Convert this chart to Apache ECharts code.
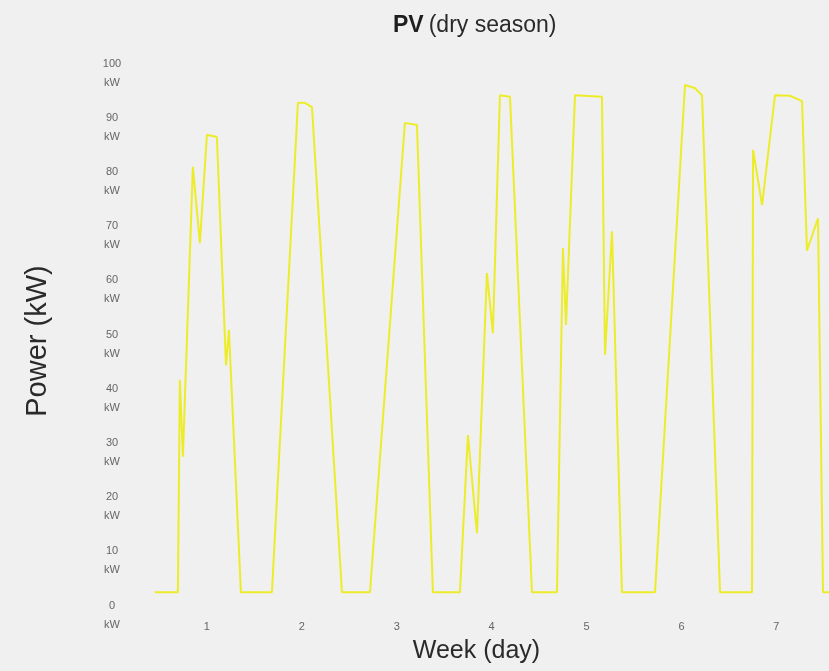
<!DOCTYPE html>
<html>
<head>
<meta charset="utf-8">
<script src="https://cdn.jsdelivr.net/npm/echarts@6/dist/echarts.min.js"></script>
<style>
  html, body { margin: 0; padding: 0; background: #f0f0f0; }
  #chart { width: 829px; height: 671px; }
</style>
</head>
<body>
<div id="chart"></div>
<script>
// Time position in days (day labels 1..7 sit at noon of each day)
const dayPos = [
  0.452, 0.694, 0.715, 0.747, 0.852, 0.926, 1.000, 1.105, 1.201, 1.232, 1.358,
  1.685, 1.959, 2.033, 2.107, 2.423,
  2.718, 3.086, 3.213, 3.381,
  3.666, 3.750, 3.845, 3.950, 4.013, 4.087, 4.193, 4.425,
  4.688, 4.751, 4.783, 4.878, 5.162, 5.194, 5.268, 5.373,
  5.721, 6.037, 6.143, 6.216, 6.406,
  6.743, 6.754, 6.849, 6.985, 7.143, 7.270, 7.322, 7.438, 7.491, 7.554
];
// PV power output (kW)
const powerKW = [
  4.2, 4.2, 43.4, 29.2, 82.7, 68.6, 88.6, 88.2, 46.1, 52.6, 4.2,
  4.2, 94.5, 94.5, 93.7, 4.2,
  4.2, 90.8, 90.4, 4.2,
  4.2, 33.2, 15.1, 63.1, 52.0, 95.9, 95.6, 4.2,
  4.2, 67.7, 53.5, 95.9, 95.6, 48.0, 70.8, 4.2,
  4.2, 97.8, 97.2, 95.9, 4.2,
  4.2, 85.8, 75.6, 95.9, 95.8, 94.8, 67.2, 73.2, 4.2, 4.2
];
const dayTicks = [1, 2, 3, 4, 5, 6, 7];
const powerTicks = [0, 10, 20, 30, 40, 50, 60, 70, 80, 90, 100];

const FONT = 'Liberation Sans, Arial, Helvetica, sans-serif';
const chart = echarts.init(document.getElementById('chart'), null, { renderer: 'canvas' });
chart.setOption({
  backgroundColor: '#f0f0f0',
  animation: false,
  title: {
    text: '{b|PV} {n|(dry season)}',
    left: 388,
    top: 9,
    textStyle: {
      fontFamily: FONT,
      fontWeight: 'normal',
      rich: {
        b: { fontFamily: FONT, fontWeight: 'bold', fontSize: 23, color: '#1e1e1e' },
        n: { fontFamily: FONT, fontWeight: 'normal', fontSize: 23, color: '#2a2a2a' }
      }
    }
  },
  grid: { left: 112, right: 0, top: 73, bottom: 56 },
  xAxis: {
    type: 'value',
    min: 0,
    max: 7.554,
    interval: 1,
    name: 'Week (day)',
    nameLocation: 'middle',
    nameGap: 24,
    nameTextStyle: { fontFamily: FONT, fontSize: 25, color: '#2a2a2a', padding: [0, 0, 0, 12] },
    axisLine: { show: false },
    axisTick: { show: false },
    splitLine: { show: false },
    axisLabel: {
      margin: 6,
      fontFamily: FONT,
      fontSize: 11,
      color: '#666',
      showMinLabel: false,
      showMaxLabel: false,
      formatter: function (v) { return dayTicks.indexOf(v) >= 0 ? String(v) : ''; }
    }
  },
  yAxis: {
    type: 'value',
    min: powerTicks[0],
    max: powerTicks[powerTicks.length - 1],
    interval: 10,
    name: 'Power (kW)',
    nameLocation: 'middle',
    nameGap: 60,
    nameTextStyle: { fontFamily: FONT, fontSize: 29, color: '#2a2a2a', padding: [0, 0, 0, 6] },
    axisLine: { show: false },
    axisTick: { show: false },
    splitLine: { show: false },
    axisLabel: {
      margin: 0,
      align: 'center',
      fontFamily: FONT,
      fontSize: 11,
      lineHeight: 19,
      color: '#666',
      formatter: '{value}\nkW'
    }
  },
  series: [{
    type: 'line',
    data: dayPos.map((d, i) => [d, powerKW[i]]),
    showSymbol: false,
    clip: false,
    lineStyle: { color: '#ecec2a', width: 2 }
  }]
});
</script>
</body>
</html>
